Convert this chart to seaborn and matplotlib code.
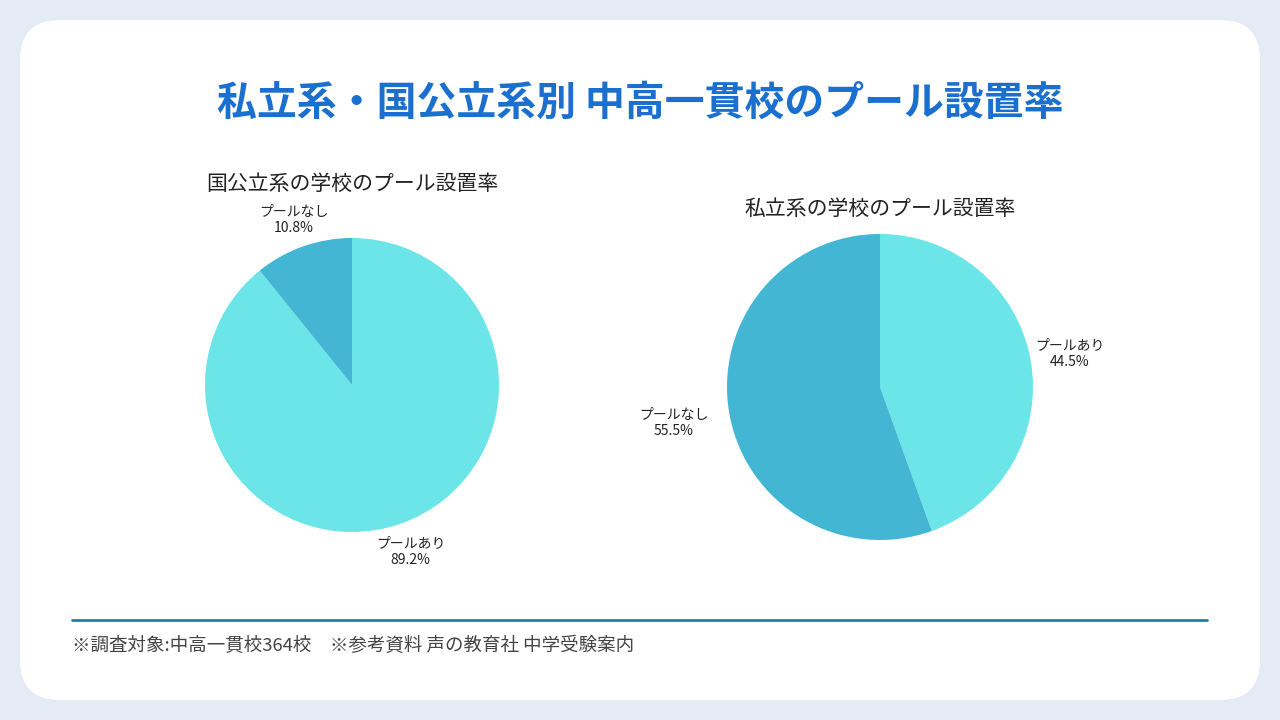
import matplotlib
matplotlib.use("Agg")
import matplotlib.pyplot as plt
from matplotlib.patches import FancyBboxPatch
import seaborn as sns
import numpy as np

# Data
labels = ["プールあり", "プールなし"]
public_values = [89.2, 10.8]
private_values = [44.5, 55.5]
public_title = "国公立系の学校のプール設置率"
private_title = "私立系の学校のプール設置率"
main_title = "私立系・国公立系別 中高一貫校のプール設置率"
footer = "※調査対象:中高一貫校364校　※参考資料 声の教育社 中学受験案内"

# Setting the seaborn style
sns.set_theme(style="white")
plt.rcParams["font.family"] = ["Noto Sans CJK JP", "DejaVu Sans"]

colors = ["#6ce5e8", "#42b6d3"]
W, H = 1280, 720

fig = plt.figure(figsize=(12.8, 7.2), dpi=100)
fig.patch.set_facecolor("#e4ebf4")

# white rounded card (behind the axes)
card = FancyBboxPatch((20 / W, 20 / H), 1240 / W, 680 / H,
                      boxstyle="round,pad=0,rounding_size=0.031",
                      transform=fig.transFigure, facecolor="white",
                      edgecolor="none", mutation_aspect=W / H, zorder=-10)
fig.patches.append(card)

fig.text(640 / W, 1 - 103 / H, main_title, ha="center", va="center",
         fontsize=28.7, fontweight="bold", color="#1a6fcf")


def draw_pie(cx, cy, r, values, title, title_y, label_dist):
    ax = fig.add_axes([(cx - r) / W, 1 - (cy + r) / H, 2 * r / W, 2 * r / H])
    ax.patch.set_alpha(0)
    wedges, _ = ax.pie(values, colors=colors, startangle=90,
                       counterclock=False, radius=1,
                       wedgeprops={"linewidth": 0, "edgecolor": "none"})
    ax.set_xlim(-1, 1)
    ax.set_ylim(-1, 1)
    ax.set_aspect("equal")
    ax.axis("off")
    for w, lab, val, d in zip(wedges, labels, values, label_dist):
        ang = np.deg2rad((w.theta1 + w.theta2) / 2)
        ax.text(d * np.cos(ang), d * np.sin(ang), f"{lab}\n{val}%",
                ha="center", va="center", fontsize=10, color="#222222",
                linespacing=1.25, clip_on=False)
    fig.text(cx / W, 1 - title_y / H, title, ha="center", va="center",
             fontsize=15, color="#222222")


draw_pie(352, 385, 147, public_values, public_title, 184, [1.2, 1.19])
draw_pie(880, 387, 153, private_values, private_title, 209, [1.26, 1.37])

# footer line and note
fig.add_artist(plt.Line2D([72 / W, 1207 / W], [1 - 620 / H, 1 - 620 / H],
                          transform=fig.transFigure, color="#1f7fae",
                          linewidth=2))
fig.text(72 / W, 1 - 646 / H, footer, ha="left", va="center",
         fontsize=13.3, color="#444444")

plt.savefig("out.png", dpi=100, facecolor=fig.get_facecolor())
